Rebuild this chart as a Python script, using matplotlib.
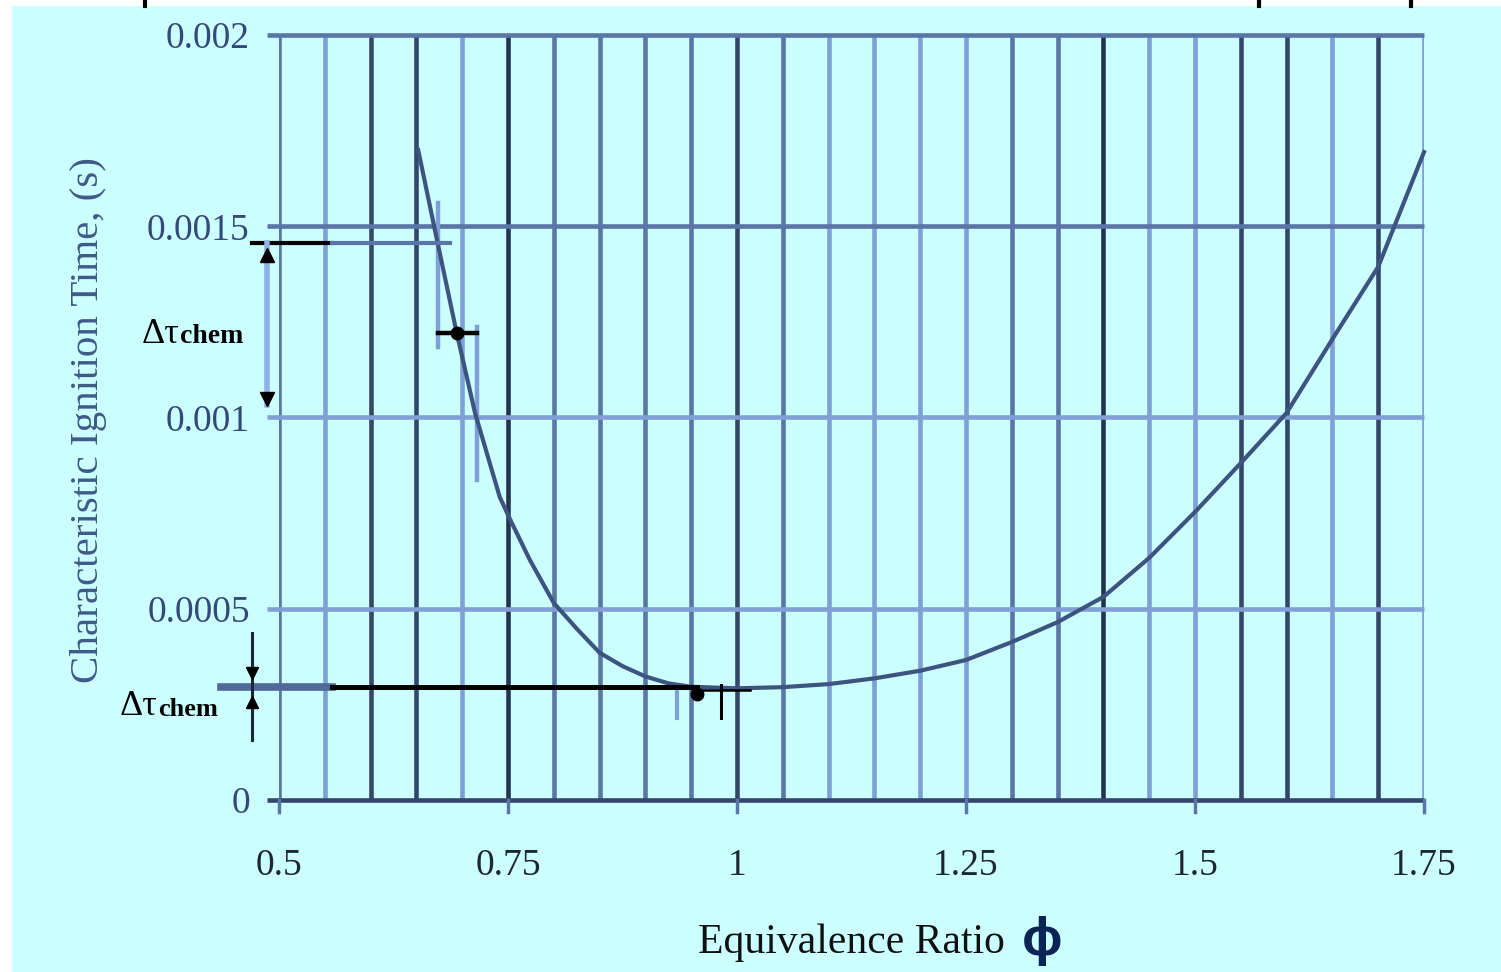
import matplotlib
matplotlib.use("Agg")
import matplotlib.pyplot as plt
from matplotlib.patches import Rectangle
from matplotlib.lines import Line2D
import numpy as np

# ---------------- data ----------------
phi = [0.652, 0.6725, 0.694, 0.714, 0.741, 0.752, 0.774, 0.80, 0.825, 0.85,
       0.875, 0.90, 0.925, 0.95,
       1.00, 1.05, 1.10, 1.15, 1.20, 1.25, 1.30, 1.35, 1.40, 1.45,
       1.50, 1.55, 1.60, 1.65, 1.70, 1.75]
tau = [0.001699, 0.001464, 0.001221, 0.001012, 0.000792, 0.000735, 0.000627,
       0.000515, 0.000448, 0.000385, 0.000350, 0.000323, 0.000305, 0.000296,
       0.000292, 0.000295, 0.000303, 0.000318,
       0.000338, 0.000366, 0.000413, 0.000465, 0.000531, 0.000633, 0.000753,
       0.000881, 0.001012, 0.001205, 0.001394, 0.001694]

# marked points
lean_pt = (0.6943, 0.001221)
stoich_pt = (0.956, 0.000277)
# error-bar ranges of the lean point
lean_phi_range = (0.6736, 0.716)
lean_bar_left = (0.001561, 0.001184)
lean_bar_right = (0.001237, 0.000837)
# delta-tau annotation levels
upper_level = 0.001456
upper_arrow_end = 0.001033
lower_level = 0.000295

xticks = [0.5, 0.75, 1.0, 1.25, 1.5, 1.75]
xticklabels = ["0.5", "0.75", "1", "1.25", "1.5", "1.75"]
yticks = [0, 0.0005, 0.001, 0.0015, 0.002]
yticklabels = ["0", "0.0005", "0.001", "0.0015", "0.002"]

xlabel = "Equivalence Ratio"
phi_symbol = "\u03d5"
ylabel = "Characteristic Ignition Time, (s)"

# ---------------- figure ----------------
W, H = 1501, 972
fig = plt.figure(figsize=(W / 100, H / 100), dpi=100)
fig.patch.set_facecolor("white")
fig.patches.append(Rectangle((12 / W, 0), 1 - 12 / W, 966 / H, transform=fig.transFigure,
                             facecolor="#ccffff", edgecolor="none", zorder=-10))
for xp in (145, 1259, 1411):
    fig.lines.append(Line2D([xp / W, xp / W], [966 / H, 1.0], transform=fig.transFigure,
                            color="black", lw=3, zorder=-5))

ax = fig.add_axes([279 / W, (H - 800) / H, 1145 / W, 765 / H])
ax.set_zorder(5)
ax.set_facecolor("none")
ax.set_xlim(0.5, 1.75)
ax.set_ylim(0, 0.002)
for s in ax.spines.values():
    s.set_visible(False)

DARK = "#34466a"
VDARK = "#243352"
MED = "#5a76a6"
LIGHT = "#7f9fd6"

vcols = [MED, LIGHT, DARK, DARK, LIGHT, VDARK, MED, MED, MED, MED,
         DARK, MED, LIGHT, LIGHT, LIGHT, LIGHT, MED, MED, VDARK, LIGHT,
         LIGHT, DARK, DARK, LIGHT, DARK, LIGHT]
gx = np.linspace(0.5, 1.75, 26)
for x, c in zip(gx, vcols):
    ax.axvline(x, color=c, lw=3.3, zorder=1, solid_capstyle="butt")

hcols = [DARK, LIGHT, LIGHT, MED, MED]
ytr = ax.get_yaxis_transform()
for y, c in zip(yticks, hcols):
    ax.plot([-0.0105, 1.0], [y, y], transform=ytr, color=c, lw=3.3, zorder=1,
            clip_on=False, solid_capstyle="butt")

# x ticks extend below axis
xtr = ax.get_xaxis_transform()
for x in xticks:
    ax.plot([x, x], [0, -12 / 765], transform=xtr, color=MED, lw=2.5,
            clip_on=False, zorder=1)

ax.set_xticks(xticks)
ax.set_xticklabels(xticklabels, fontfamily="Liberation Serif", fontsize=27, color="#1c2636")
ax.set_yticks(yticks)
ax.set_yticklabels(yticklabels, fontfamily="Liberation Serif", fontsize=27, color="#34497a")
ax.tick_params(axis="x", length=0, pad=35)
ax.tick_params(axis="y", length=0, pad=21)

# curve
ax.plot(phi, tau, color="#3d5480", lw=3.0, zorder=3, clip_on=False)

# lean point + bars
ax.plot(list(lean_phi_range), [lean_pt[1]] * 2, color="black", lw=3.2, zorder=4)
ax.plot([lean_phi_range[0]] * 2, list(lean_bar_left), color=LIGHT, lw=3.2, zorder=2)
ax.plot([lean_phi_range[1]] * 2, list(lean_bar_right), color=LIGHT, lw=3.2, zorder=2)
ax.plot([lean_pt[0]], [lean_pt[1]], "o", color="black", ms=9, zorder=5)

# upper delta-tau annotation
ax.plot([0.4705, 0.558], [upper_level] * 2, color="black", lw=3, zorder=4, clip_on=False)
ax.plot([0.558, 0.6867], [upper_level] * 2, color=MED, lw=3, zorder=4, clip_on=False)
ax.plot([0.4869] * 2, [upper_level, upper_arrow_end], color="#8fb0e6", lw=4, zorder=4, clip_on=False)
ax.plot([0.4869], [0.001425], marker="^", color="black", ms=10, zorder=5, clip_on=False)
ax.plot([0.4869], [0.001048], marker="v", color="black", ms=10, zorder=5, clip_on=False)
t1 = ax.text(0.3504, 0.001195, "\u0394\u03c4", fontfamily="Liberation Serif", fontsize=26,
             ha="left", va="baseline", color="black")
ax.annotate("chem", xy=(1, 0.06), xycoords=t1, ha="left", va="bottom",
            fontfamily="Liberation Serif", fontsize=20, fontweight="bold", color="black")

# lower delta-tau annotation
ax.plot([0.4367, 0.558], [lower_level] * 2, color="#4f6a98", lw=5.5, zorder=4, clip_on=False)
ax.plot([0.558, stoich_pt[0]], [lower_level] * 2, color="black", lw=3.6, zorder=4, clip_on=False)
ax.plot([stoich_pt[0], 1.014], [0.000288] * 2, color="black", lw=1.8, zorder=4)
ax.plot([0.9345] * 2, [lower_level, 0.000214], color=LIGHT, lw=3, zorder=2)
ax.plot([0.9825] * 2, [0.0003, 0.000214], color="black", lw=2.2, zorder=4)
ax.plot([stoich_pt[0]], [stoich_pt[1]], "o", color="black", ms=9, zorder=5)
ax.plot([0.4705] * 2, [0.000437, 0.000157], color="#1c2636", lw=2.2, zorder=4, clip_on=False)
ax.plot([0.4705], [0.000332], marker="v", color="black", ms=9, zorder=5, clip_on=False)
ax.plot([0.4705], [0.000255], marker="^", color="black", ms=9, zorder=5, clip_on=False)
t2 = ax.text(0.3264, 0.000222, "\u0394\u03c4", fontfamily="Liberation Serif", fontsize=26,
             ha="left", va="baseline", color="black")
ax.annotate("chem", xy=(1, 0.06), xycoords=t2, ha="left", va="bottom",
            fontfamily="Liberation Serif", fontsize=19, fontweight="bold", color="black")

# axis labels
fig.text(89 / W, (H - 420) / H, ylabel, rotation=90, ha="center", va="center",
         fontfamily="Liberation Serif", fontsize=29.5, color="#3f5a88")
fig.text(698 / W, (H - 943) / H, xlabel, ha="left", va="center",
         fontfamily="Liberation Serif", fontsize=30, color="#111111")
fig.text(1042 / W, (H - 941) / H, phi_symbol, ha="center", va="center",
         fontfamily=["Liberation Sans", "DejaVu Sans"], fontweight="bold", fontsize=39,
         color="#0b2456")

fig.savefig("out.png", dpi=100)
